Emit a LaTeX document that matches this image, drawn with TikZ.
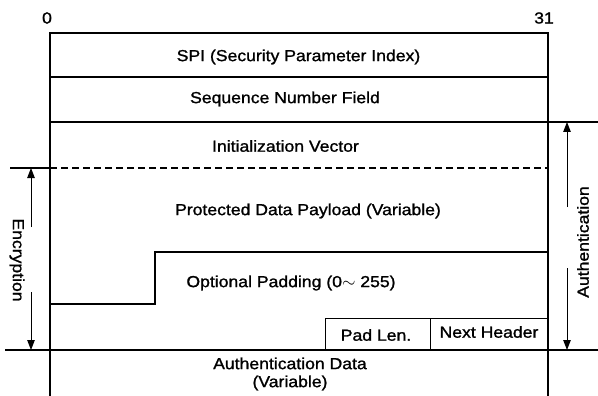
\documentclass[tikz,border=0pt]{standalone}
\usepackage{fontspec}
\setmainfont[FakeStretch=1.1,FakeBold=1.2]{Liberation Sans}
\usetikzlibrary{arrows.meta}
\begin{document}
\begin{tikzpicture}[x=1pt,y=-1pt,
  frame/.style={line width=1.3pt},
  thin/.style={line width=1pt},
  lbl/.style={inner sep=0pt,font=\fontsize{16}{18}\selectfont},
  dim/.style={line width=1pt,-{Triangle[length=10pt,width=7.5pt]}}]
\useasboundingbox (0,0) rectangle (598,396);
% frame lines
\draw[frame] (50,396) -- (50,33) -- (548,33) -- (548,396);
\draw[frame] (50,77) -- (548,77);
\draw[frame] (50,122) -- (598,122);
\draw[frame] (10,168) -- (50,168);
\draw[frame,dash pattern=on 7pt off 4pt] (50,168) -- (548,168);
\draw[frame] (50,304) -- (155,304) -- (155,252) -- (548,252);
\draw[thin] (325,350) -- (325,318) -- (548,318);
\draw[thin] (430,318) -- (430,350);
\draw[frame] (5,350) -- (598,350);
% labels
\node[lbl] (b0) at (47,18) {0};
\node[lbl] (b31) at (544,18) {31};
\node[lbl] (spi) at (298.5,57) {SPI (Security Parameter Index)};
\node[lbl] (seq) at (285,99) {Sequence Number Field};
\node[lbl] (iv) at (285.5,146) {Initialization Vector};
\node[lbl] (pdp) at (308,211) {Protected Data Payload (Variable)};
\node[lbl] (pad) at (291,283) {Optional Padding (0$\sim$ 255)};
\node[lbl] (padlen) at (376,335) {Pad Len.};
\node[lbl] (nh) at (489,332) {Next Header};
\node[lbl,align=center] (ad) at (290,374) {Authentication Data\\(Variable)};
% encryption
\node[lbl,rotate=-90] (enc) at (17,260) {Encryption};
\coordinate (encT) at (31,168);
\coordinate (encB) at (31,350);
\coordinate (encS1) at (31,227);
\coordinate (encS2) at (31,292);
\draw[dim] (encS1) -- (encT);
\draw[dim] (encS2) -- (encB);
% authentication
\node[lbl,rotate=90] (auth) at (583,242) {Authentication};
\coordinate (auT) at (567,122);
\coordinate (auB) at (567,350);
\coordinate (auS1) at (567,207);
\coordinate (auS2) at (567,268);
\draw[dim] (auS1) -- (auT);
\draw[dim] (auS2) -- (auB);
\end{tikzpicture}
\end{document}
